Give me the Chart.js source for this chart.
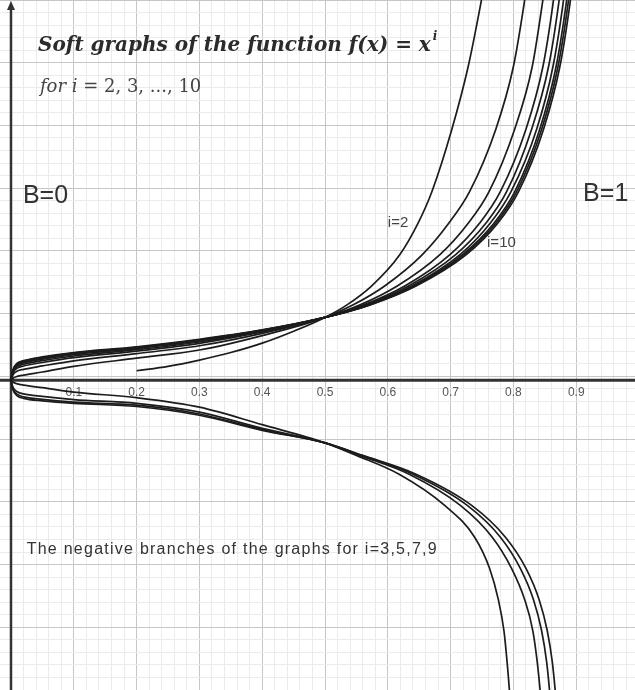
<!DOCTYPE html>
<html>
<head>
<meta charset="utf-8">
<title>Soft graphs of f(x) = x^i</title>
<script src="https://cdn.jsdelivr.net/npm/chart.js@4.4.1/dist/chart.umd.min.js"></script>
<style>
  html, body { margin: 0; padding: 0; background: #fff; }
  canvas { display: block; }
</style>
</head>
<body>
<canvas id="softGraphs" width="635" height="690"></canvas>
<script>
'use strict';

// Positive branches, [x, f(x)] for i = 2 .. 10
var posI2 = [[0.2, 0.15], [0.25, 0.22], [0.3, 0.32], [0.35, 0.44], [0.4, 0.59], [0.45, 0.78], [0.5, 1.0],
    [0.535, 1.2], [0.574, 1.5], [0.619, 2.0], [0.648, 2.5], [0.670, 3.0], [0.702, 4.0], [0.728, 5.0], [0.748, 6.0], [0.757, 6.5]];
var posI3 = [[0, 0], [0.003, 0.03], [0.01, 0.06], [0.02, 0.08], [0.05, 0.13], [0.1, 0.22], [0.2, 0.35], [0.3, 0.48], [0.4, 0.71], [0.5, 1.0],
    [0.545, 1.2], [0.595, 1.5], [0.655, 2.0], [0.697, 2.5], [0.730, 3.0], [0.772, 4.0], [0.800, 5.0], [0.817, 6.0], [0.824, 6.5]];
var posI4 = [[0, 0], [0.003, 0.082], [0.01, 0.144], [0.02, 0.172], [0.05, 0.226], [0.1, 0.308], [0.2, 0.422], [0.3, 0.548], [0.4, 0.746], [0.5, 1.0],
    [0.556, 1.2], [0.615, 1.5], [0.683, 2.0], [0.728, 2.5], [0.761, 3.0], [0.802, 4.0], [0.830, 5.0], [0.846, 6.0], [0.853, 6.5]];
var posI5 = [[0, 0], [0.003, 0.112], [0.01, 0.192], [0.02, 0.225], [0.05, 0.281], [0.1, 0.359], [0.2, 0.463], [0.3, 0.587], [0.4, 0.767], [0.5, 1.0],
    [0.562, 1.2], [0.627, 1.5], [0.699, 2.0], [0.746, 2.5], [0.779, 3.0], [0.820, 4.0], [0.847, 5.0], [0.863, 6.0], [0.869, 6.5]];
var posI6 = [[0, 0], [0.003, 0.128], [0.01, 0.218], [0.02, 0.253], [0.05, 0.31], [0.1, 0.385], [0.2, 0.485], [0.3, 0.608], [0.4, 0.778], [0.5, 1.0],
    [0.565, 1.2], [0.633, 1.5], [0.708, 2.0], [0.756, 2.5], [0.789, 3.0], [0.829, 4.0], [0.856, 5.0], [0.872, 6.0], [0.878, 6.5]];
var posI7 = [[0, 0], [0.003, 0.14], [0.01, 0.238], [0.02, 0.276], [0.05, 0.334], [0.1, 0.407], [0.2, 0.503], [0.3, 0.625], [0.4, 0.787], [0.5, 1.0],
    [0.568, 1.2], [0.638, 1.5], [0.715, 2.0], [0.763, 2.5], [0.796, 3.0], [0.837, 4.0], [0.863, 5.0], [0.879, 6.0], [0.885, 6.5]];
var posI8 = [[0, 0], [0.003, 0.15], [0.01, 0.253], [0.02, 0.292], [0.05, 0.351], [0.1, 0.422], [0.2, 0.516], [0.3, 0.636], [0.4, 0.793], [0.5, 1.0],
    [0.570, 1.2], [0.641, 1.5], [0.719, 2.0], [0.769, 2.5], [0.802, 3.0], [0.842, 4.0], [0.868, 5.0], [0.884, 6.0], [0.890, 6.5]];
var posI9 = [[0, 0], [0.003, 0.155], [0.01, 0.262], [0.02, 0.301], [0.05, 0.36], [0.1, 0.431], [0.2, 0.523], [0.3, 0.643], [0.4, 0.796], [0.5, 1.0],
    [0.571, 1.2], [0.643, 1.5], [0.722, 2.0], [0.772, 2.5], [0.805, 3.0], [0.845, 4.0], [0.871, 5.0], [0.887, 6.0], [0.893, 6.5]];
var posI10 = [[0, 0], [0.003, 0.16], [0.01, 0.27], [0.02, 0.31], [0.05, 0.37], [0.1, 0.44], [0.2, 0.53], [0.3, 0.65], [0.4, 0.80], [0.5, 1.0],
    [0.572, 1.2], [0.645, 1.5], [0.725, 2.0], [0.775, 2.5], [0.808, 3.0], [0.848, 4.0], [0.874, 5.0], [0.890, 6.0], [0.896, 6.5]];

// Negative branches for the odd exponents
var negI3 = [[0, 0], [0.003, -0.03], [0.01, -0.06], [0.02, -0.08], [0.05, -0.12], [0.1, -0.19], [0.2, -0.28], [0.3, -0.43], [0.4, -0.71], [0.5, -1.0],
    [0.55, -1.2], [0.618, -1.5], [0.691, -2.0], [0.738, -2.5], [0.762, -3.0], [0.776, -3.5], [0.785, -4.0], [0.790, -4.5], [0.794, -5.0], [0.797, -5.5]];
var negI5 = [[0, 0], [0.003, -0.11], [0.01, -0.185], [0.02, -0.22], [0.05, -0.26], [0.1, -0.31], [0.2, -0.37], [0.3, -0.51], [0.4, -0.77], [0.5, -1.0],
    [0.555, -1.2], [0.634, -1.5], [0.716, -2.0], [0.766, -2.5], [0.797, -3.0], [0.818, -3.5], [0.831, -4.0], [0.838, -4.5], [0.843, -5.0], [0.847, -5.5]];
var negI7 = [[0, 0], [0.003, -0.136], [0.01, -0.228], [0.02, -0.266], [0.05, -0.306], [0.1, -0.35], [0.2, -0.40], [0.3, -0.54], [0.4, -0.79], [0.5, -1.0],
    [0.558, -1.2], [0.640, -1.5], [0.727, -2.0], [0.779, -2.5], [0.811, -3.0], [0.832, -3.5], [0.845, -4.0], [0.853, -4.5], [0.858, -5.0], [0.862, -5.5]];
var negI9 = [[0, 0], [0.003, -0.15], [0.01, -0.25], [0.02, -0.29], [0.05, -0.33], [0.1, -0.37], [0.2, -0.42], [0.3, -0.56], [0.4, -0.80], [0.5, -1.0],
    [0.560, -1.2], [0.645, -1.5], [0.734, -2.0], [0.787, -2.5], [0.820, -3.0], [0.841, -3.5], [0.854, -4.0], [0.862, -4.5], [0.867, -5.0], [0.871, -5.5]];

var xTickLabels = ['0.1', '0.2', '0.3', '0.4', '0.5', '0.6', '0.7', '0.8', '0.9'];

var curves = [posI2, posI3, posI4, posI5, posI6, posI7, posI8, posI9, posI10, negI3, negI5, negI7, negI9];

function toPoints(pairs) {
    return pairs.map(function (p) { return { x: p[0], y: p[1] }; });
}

// minor grid every 1/5 of a major step
function gridColor(value, perUnit) {
    var k = Math.round(value * perUnit);
    return (k % 5 === 0) ? '#c6c6c6' : '#ebebeb';
}

var axesAndText = {
    id: 'axesAndText',
    beforeDatasetsDraw: function (chart) {
        var ctx = chart.ctx, area = chart.chartArea;
        var xs = chart.scales.x, ys = chart.scales.y;
        var x0 = xs.getPixelForValue(0), y0 = ys.getPixelForValue(0);

        ctx.save();
        ctx.strokeStyle = '#333';
        ctx.lineWidth = 3;
        ctx.beginPath();
        ctx.moveTo(area.left, y0);
        ctx.lineTo(area.right, y0);
        ctx.stroke();

        ctx.lineWidth = 2.5;
        ctx.beginPath();
        ctx.moveTo(x0, area.top + 6);
        ctx.lineTo(x0, area.bottom);
        ctx.stroke();

        // arrow head on the vertical axis
        ctx.fillStyle = '#333';
        ctx.beginPath();
        ctx.moveTo(x0, area.top + 1);
        ctx.lineTo(x0 - 4, area.top + 10);
        ctx.lineTo(x0 + 4, area.top + 10);
        ctx.closePath();
        ctx.fill();

        ctx.font = '12px "Liberation Sans", Arial, sans-serif';
        ctx.fillStyle = '#555';
        ctx.textAlign = 'center';
        ctx.textBaseline = 'middle';
        xTickLabels.forEach(function (label) {
            ctx.fillText(label, xs.getPixelForValue(parseFloat(label)), y0 + 13);
        });
        ctx.restore();
    },
    afterDatasetsDraw: function (chart) {
        var ctx = chart.ctx;
        var xs = chart.scales.x, ys = chart.scales.y;
        function px(v) { return xs.getPixelForValue(v); }
        function py(v) { return ys.getPixelForValue(v); }

        ctx.save();
        ctx.textBaseline = 'middle';
        ctx.textAlign = 'left';

        // heading
        var head = 'Soft graphs of the function f(x) = x';
        var hx = px(0.043), hy = py(5.33);
        ctx.fillStyle = '#2b2b2b';
        ctx.font = 'italic bold 20px "DejaVu Serif", serif';
        ctx.fillText(head, hx, hy);
        var hw = ctx.measureText(head).width;
        ctx.font = 'italic bold 12px "DejaVu Serif", serif';
        ctx.fillText('i', hx + hw + 2, hy - 9);

        // second line
        var sx = px(0.046), sy = py(4.66);
        ctx.fillStyle = '#444';
        ctx.font = 'italic 18px "DejaVu Serif", serif';
        ctx.fillText('for i', sx, sy);
        sx += ctx.measureText('for i').width;
        ctx.font = '18px "DejaVu Serif", serif';
        ctx.fillText(' = 2, 3, ..., 10', sx, sy);

        ctx.fillStyle = '#333';
        ctx.font = '25px "Liberation Sans", Arial, sans-serif';
        ctx.fillText('B=0', px(0.019), py(2.94));
        ctx.fillText('B=1', px(0.911), py(2.97));

        ctx.fillStyle = '#444';
        ctx.font = '15px "Liberation Sans", Arial, sans-serif';
        ctx.fillText('i=2', px(0.600), py(2.5));
        ctx.fillText('i=10', px(0.758), py(2.19));

        ctx.fillStyle = '#333';
        ctx.font = '16px "Liberation Sans", Arial, sans-serif';
        ctx.letterSpacing = '1.25px';
        ctx.fillText('The negative branches of the graphs for i=3,5,7,9', px(0.025), py(-2.7));
        ctx.restore();
    }
};

var datasets = curves.map(function (c) {
    return {
        data: toPoints(c),
        showLine: true,
        borderColor: '#1c1c1c',
        borderWidth: 1.7,
        pointRadius: 0,
        fill: false,
        cubicInterpolationMode: 'monotone'
    };
});

new Chart(document.getElementById('softGraphs'), {
    type: 'scatter',
    data: { datasets: datasets },
    options: {
        responsive: false,
        animation: false,
        layout: { padding: 0 },
        plugins: { legend: { display: false }, tooltip: { enabled: false } },
        scales: {
            x: {
                type: 'linear',
                min: -0.0175,
                max: 0.9936,
                border: { display: false },
                ticks: { display: false, stepSize: 0.02, includeBounds: false },
                grid: {
                    drawTicks: false,
                    lineWidth: 1,
                    color: function (c) { return gridColor(c.tick.value, 50); }
                }
            },
            y: {
                type: 'linear',
                min: -4.94,
                max: 6.06,
                border: { display: false },
                ticks: { display: false, stepSize: 0.2, includeBounds: false },
                grid: {
                    drawTicks: false,
                    lineWidth: 1,
                    color: function (c) { return gridColor(c.tick.value, 5); }
                }
            }
        }
    },
    plugins: [axesAndText]
});
</script>
</body>
</html>
